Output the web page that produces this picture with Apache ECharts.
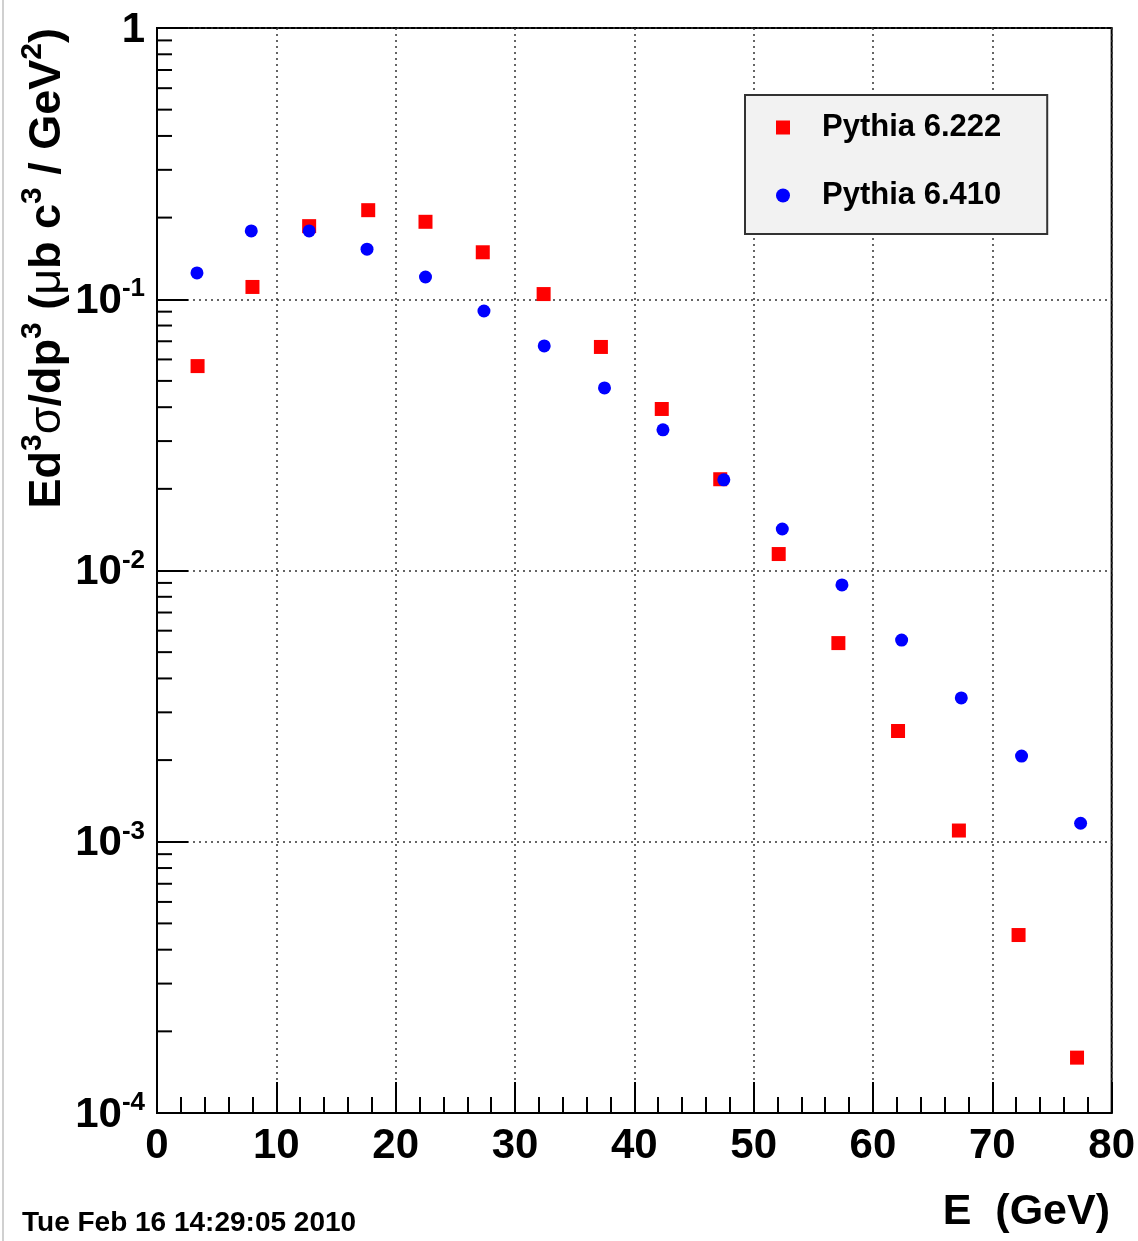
<!DOCTYPE html>
<html>
<head>
<meta charset="utf-8">
<script src="https://cdn.jsdelivr.net/npm/echarts@6/dist/echarts.min.js"></script>
<style>
  html, body { margin: 0; padding: 0; background: #fff; }
  #chart { width: 1138px; height: 1241px; }
</style>
</head>
<body>
<div id="chart"></div>
<script>
// energy bins (GeV) and cross sections
const pythia6222E = [3.4, 8.0, 12.75, 17.7, 22.5, 27.3, 32.4, 37.2, 42.3, 47.2, 52.1, 57.1, 62.1, 67.2, 72.2, 77.1]
const pythia6222Y = [0.0567, 0.111, 0.186, 0.213, 0.193, 0.149, 0.1045, 0.0667, 0.0394, 0.0217, 0.0115, 0.0054, 0.00256, 0.0011, 0.000453, 0.00016]
const pythia6410E = [3.35, 7.9, 12.75, 17.6, 22.5, 27.4, 32.45, 37.5, 42.4, 47.5, 52.4, 57.4, 62.4, 67.4, 72.45, 77.4]
const pythia6410Y = [0.125, 0.1786, 0.1786, 0.153, 0.1208, 0.0905, 0.0673, 0.0471, 0.033, 0.0216, 0.01422, 0.00885, 0.00554, 0.00339, 0.00207, 0.00117]
const seriesNames = ['Pythia 6.222', 'Pythia 6.410']
const yMinorTicks = [2e-4, 3e-4, 4e-4, 5e-4, 6e-4, 7e-4, 8e-4, 9e-4,
  2e-3, 3e-3, 4e-3, 5e-3, 6e-3, 7e-3, 8e-3, 9e-3,
  2e-2, 3e-2, 4e-2, 5e-2, 6e-2, 7e-2, 8e-2, 9e-2,
  0.2, 0.3, 0.4, 0.5, 0.6, 0.7, 0.8, 0.9]

const FONT = '"Liberation Sans", Arial, Helvetica, sans-serif'

const chart = echarts.init(document.getElementById('chart'))

const option = {
  backgroundColor: '#fff',
  animation: false,
  textStyle: { fontFamily: FONT },
  grid: {
    left: 157, right: 26, top: 28, bottom: 128,
    show: true, borderColor: '#000', borderWidth: 2
  },
  legend: {
    orient: 'vertical',
    left: 745, top: 95,
    padding: [17, 46, 23, 31],
    itemGap: 37,
    itemWidth: 14, itemHeight: 14,
    backgroundColor: '#f2f2f2',
    borderColor: '#333', borderWidth: 2,
    data: [
      { name: seriesNames[0], icon: 'rect' },
      { name: seriesNames[1], icon: 'circle' }
    ],
    formatter: name => '{t|' + name + '}',
    textStyle: {
      rich: {
        t: { fontSize: 31, fontWeight: 'bold', color: '#000', lineHeight: 30, padding: [0, 0, 0, 27], fontFamily: FONT }
      }
    }
  },
  xAxis: {
    type: 'value',
    min: 0, max: 80, interval: 10,
    axisLine: { show: true, lineStyle: { color: '#000', width: 2 } },
    axisTick: { inside: true, length: 31, lineStyle: { color: '#000', width: 2 } },
    minorTick: { show: true, splitNumber: 5, length: 16, lineStyle: { color: '#000', width: 2 } },
    splitLine: { show: true, lineStyle: { type: [2, 4], color: '#333', width: 1.5 } },
    axisLabel: {
      margin: 12, color: '#000', fontSize: 42, fontWeight: 'bold', fontFamily: FONT
    }
  },
  yAxis: {
    type: 'log', logBase: 10,
    min: 1e-4, max: 1, splitNumber: 4,
    axisLine: { show: true, lineStyle: { color: '#000', width: 2 } },
    axisTick: { inside: true, length: 31, lineStyle: { color: '#000', width: 2 } },
    splitLine: { show: true, lineStyle: { type: [2, 4], color: '#333', width: 1.5 } },
    axisLabel: {
      margin: 12,
      formatter: v => {
        const e = Math.round(Math.log10(v))
        if (e === 0) return '{a|1}'
        return '{a|10}{b|' + e + '}'
      },
      rich: {
        a: { fontSize: 42, fontWeight: 'bold', color: '#000', lineHeight: 46, verticalAlign: 'bottom', fontFamily: FONT },
        b: { fontSize: 26, fontWeight: 'bold', color: '#000', lineHeight: 46, verticalAlign: 'top', fontFamily: FONT }
      }
    }
  },
  graphic: [
    { type: 'rect', left: 2, top: 0, shape: { width: 2, height: 1241 }, style: { fill: '#d0d0d0' }, silent: true },
    {
      type: 'text', x: 44, y: 28, rotation: Math.PI / 2,
      style: {
        text: '{m|Ed}{s|3}{g|σ}{m|/dp}{s|3}{m| (}{g|μ}{m|b c}{s|3}{m| / GeV}{s|2}{m|)}',
        align: 'right', verticalAlign: 'middle',
        rich: {
          m: { fontSize: 45, fontWeight: 'bold', lineHeight: 52, verticalAlign: 'bottom', fill: '#000', fontFamily: FONT },
          g: { fontSize: 45, lineHeight: 52, verticalAlign: 'bottom', fill: '#000', fontFamily: FONT },
          s: { fontSize: 30, fontWeight: 'bold', lineHeight: 52, verticalAlign: 'top', fill: '#000', fontFamily: FONT }
        }
      }
    },
    {
      type: 'text', right: 28, top: 1191,
      style: { text: 'E  (GeV)', font: 'bold 43px ' + FONT, fill: '#000' }
    },
    {
      type: 'text', left: 22, top: 1209,
      style: { text: 'Tue Feb 16 14:29:05 2010', font: 'bold 28px ' + FONT, fill: '#000' }
    }
  ],
  series: [
    {
      name: 'yMinor', type: 'custom', silent: true, clip: false, z: 1,
      data: yMinorTicks.map(v => [0, v]),
      renderItem: (params, api) => {
        const p = api.coord([api.value(0), api.value(1)])
        return {
          type: 'line',
          shape: { x1: p[0], y1: p[1], x2: p[0] + 15, y2: p[1] },
          style: { stroke: '#000', lineWidth: 2 }
        }
      }
    },
    {
      name: seriesNames[0], type: 'scatter', symbol: 'rect', symbolSize: 14,
      itemStyle: { color: '#ff0000', opacity: 1 },
      data: pythia6222E.map((e, i) => [e, pythia6222Y[i]])
    },
    {
      name: seriesNames[1], type: 'scatter', symbol: 'circle', symbolSize: 13,
      itemStyle: { color: '#0000ff', opacity: 1 },
      data: pythia6410E.map((e, i) => [e, pythia6410Y[i]])
    }
  ]
}

chart.setOption(option)
window.addEventListener('resize', () => chart.resize())
</script>
</body>
</html>
